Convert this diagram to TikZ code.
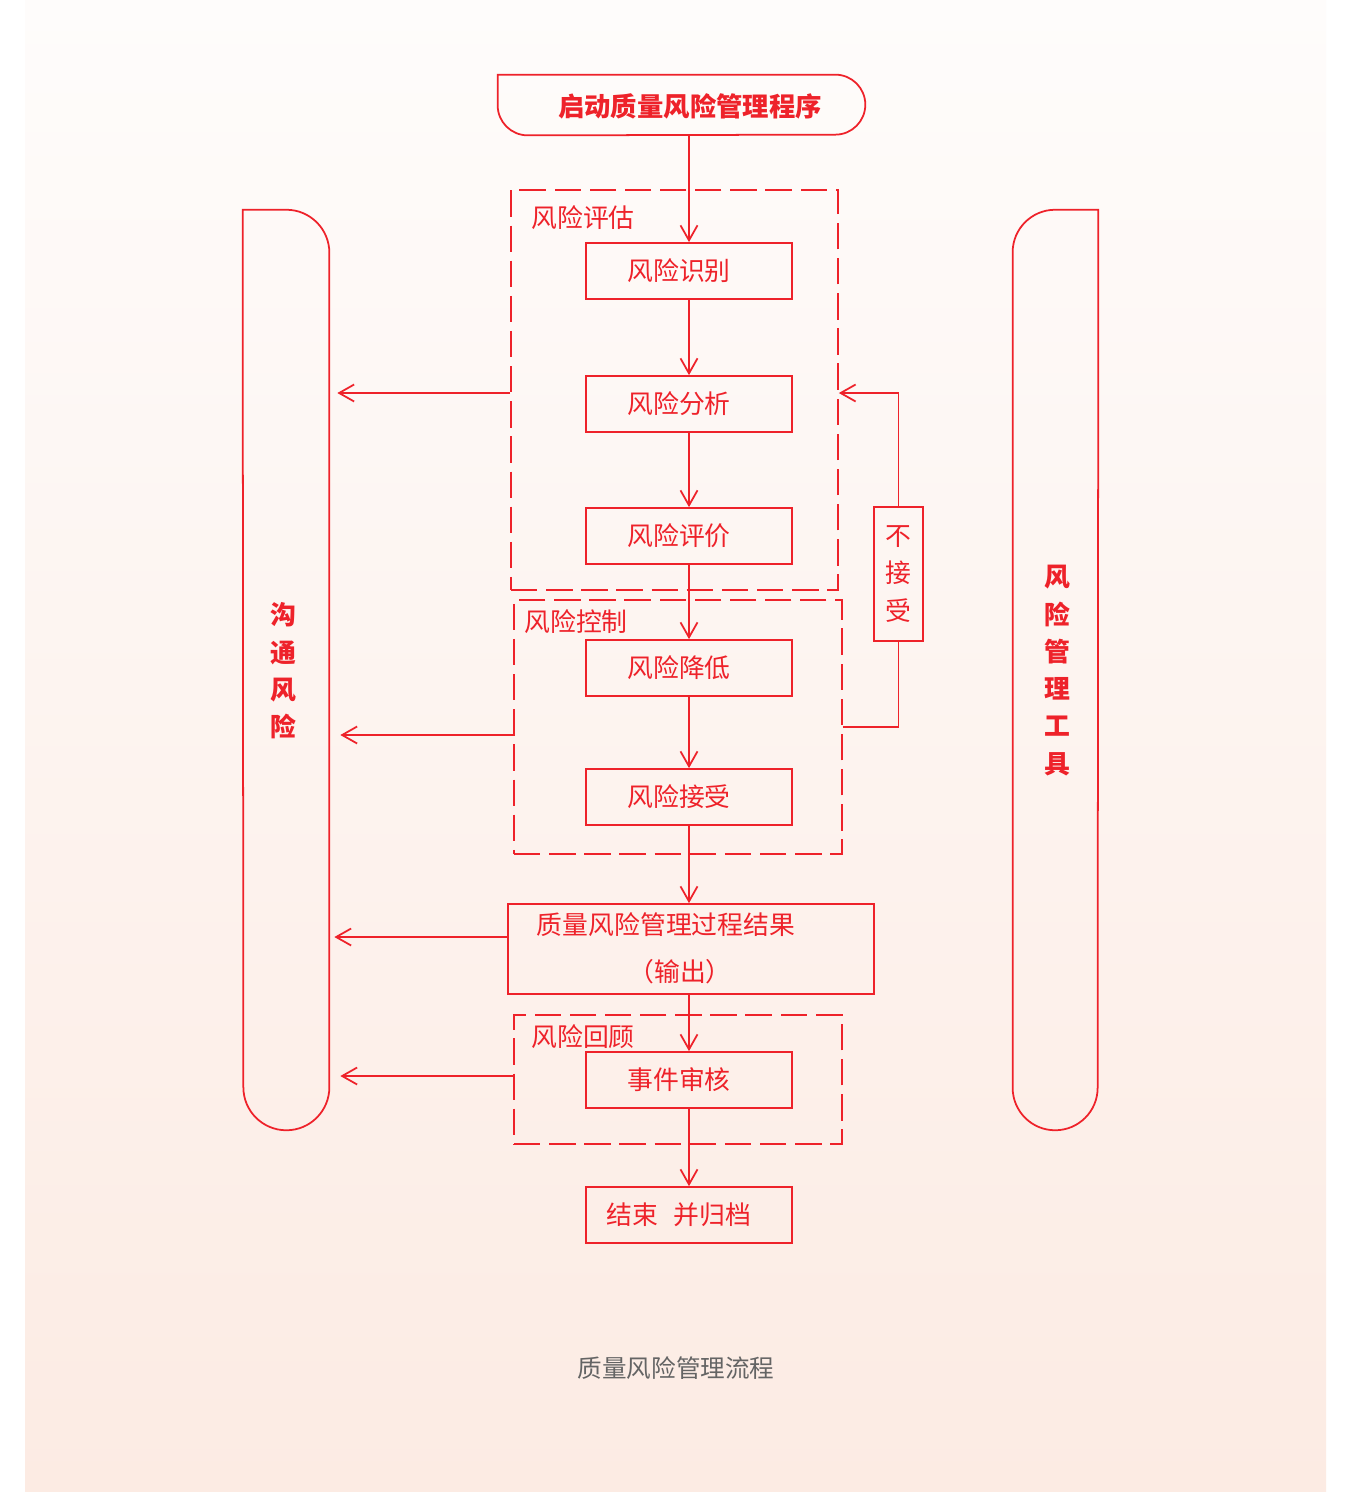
\documentclass[tikz,border=0pt]{standalone}
\usepackage{fontspec}
\setmainfont{Noto Sans CJK SC}
\usepackage{tikz}
\usetikzlibrary{positioning,calc,arrows.meta}

\definecolor{qred}{RGB}{238,34,42}
\definecolor{bgtop}{RGB}{254,252,251}
\definecolor{bgbot}{RGB}{252,235,227}
\definecolor{capgray}{RGB}{100,100,100}

\begin{document}
\begin{tikzpicture}[x=0.02cm, y=0.02cm,
    txt/.style={font=\fontsize{14.7pt}{17pt}\selectfont, text=qred, inner sep=0pt},
    stepbox/.style={draw=qred, line width=1pt, minimum width=4.12cm, minimum height=1.12cm, inner sep=0pt, txt},
    leftish/.style={execute at end node=\hspace*{0.4cm}},
    groupbox/.style={draw=qred, line width=1pt, dash pattern=on 15pt off 5pt, inner sep=0pt},
    ghost/.style={draw=none, inner sep=0pt},
    edge/.style={draw=qred, line width=1pt},
    arr/.style={edge, -{Straight Barb[length=3mm, width=3.4mm, line width=1pt]}},
    vtxt/.style={txt, font=\fontsize{14.7pt}{21.2pt}\selectfont\bfseries, align=center}]
      % background
      \fill[white] (0,0) rectangle (1345,-1492);
      \shade[top color=bgtop, bottom color=bgbot] (25,0) rectangle (1326,-1492);

      % start
      \node[ghost, minimum width=7.34cm, minimum height=1.2cm] (start) at (681.5,-105) {};
      \draw[edge] (start.north west) -- ([xshift=-0.6cm]start.north east)
        arc[start angle=90, end angle=-90, radius=0.6cm] -- ([xshift=0.6cm]start.south west)
        arc[start angle=270, end angle=180, radius=0.6cm] -- cycle;
      \node[txt, font=\fontsize{15pt}{17pt}\selectfont\bfseries] (starttxt) at (690,-106) {启动质量风险管理程序};

      % groups
      \node[groupbox, minimum width=6.54cm, minimum height=8cm] (assess) at (674.5,-390) {};
      \node[groupbox, minimum width=6.56cm, minimum height=5.08cm] (control) at (678,-727) {};
      \node[groupbox, minimum width=6.56cm, minimum height=2.58cm] (review) at (678,-1079.5) {};
      \node[txt] (assesslbl) at (583,-218) {风险评估};
      \node[txt] (controllbl) at (576,-622) {风险控制};
      \node[txt] (reviewlbl) at (583,-1037) {风险回顾};

      % steps
      \node[stepbox, leftish] (ident) at (689,-271) {风险识别};
      \node[stepbox, leftish] (analy) at (689,-404) {风险分析};
      \node[stepbox, leftish] (evalu) at (689,-536) {风险评价};
      \node[stepbox, leftish] (reduce) at (689,-668) {风险降低};
      \node[stepbox, leftish] (accept) at (689,-797) {风险接受};
      \node[stepbox, minimum width=7.32cm, minimum height=1.8cm] (out) at (691,-949) {};
      \node[txt] (outa) at (666,-925) {质量风险管理过程结果};
      \node[txt] (outb) at (680,-972) {（输出）};
      \node[stepbox, leftish] (audit) at (689,-1080) {事件审核};
      \node[stepbox, leftish] (finish) at (689,-1215) {结束\hspace{0.6em}并归档};
      \node[stepbox, minimum width=0.98cm, minimum height=2.68cm, font=\fontsize{14.7pt}{21.2pt}\selectfont, align=center] (noacc) at (898.5,-574) {不\\接\\受};

      % side bars
      \node[ghost, minimum width=1.72cm, minimum height=18.4cm] (comm) at (286,-670) {};
      \draw[edge] (comm.north west) -- ([xshift=-0.86cm]comm.north east)
        arc[start angle=90, end angle=0, radius=0.86cm] -- ([yshift=0.86cm]comm.south east)
        arc[start angle=0, end angle=-180, radius=0.86cm] -- cycle;
      \node[vtxt] (commtxt) at (283,-671) {沟\\通\\风\\险};
      \node[ghost, minimum width=1.7cm, minimum height=18.4cm] (tools) at (1055.5,-670) {};
      \draw[edge] (tools.north east) -- ([xshift=0.85cm]tools.north west)
        arc[start angle=90, end angle=180, radius=0.85cm] -- ([yshift=0.85cm]tools.south west)
        arc[start angle=180, end angle=360, radius=0.85cm] -- cycle;
      \node[vtxt] (toolstxt) at (1057,-670.5) {风\\险\\管\\理\\工\\具};

      % main flow
      \draw[arr] (start.south -| ident.north) -- (ident.north);
      \draw[arr] (ident) -- (analy);
      \draw[arr] (analy) -- (evalu);
      \draw[arr] (evalu) -- (reduce);
      \draw[arr] (reduce) -- (accept);
      \draw[arr] (accept) -- (out.north -| accept);
      \draw[arr] (out.south -| audit) -- (audit);
      \draw[arr] (audit) -- (finish);

      % feedback
      \draw[edge] (control.east) -| (noacc.south);
      \draw[arr] (noacc.north) |- ([yshift=-0.06cm]assess.east);

      % to communication
      \draw[arr, shorten >=0.16cm] ([yshift=-0.06cm]assess.west) -- ([yshift=-0.06cm]assess.west -| comm.east);
      \draw[arr, shorten >=0.22cm] ([yshift=-0.16cm]control.west) -- ([yshift=-0.16cm]control.west -| comm.east);
      \draw[arr, shorten >=0.1cm] ([yshift=0.24cm]out.west) -- ([yshift=0.24cm]out.west -| comm.east);
      \draw[arr, shorten >=0.22cm] ([yshift=0.07cm]review.west) -- ([yshift=0.07cm]review.west -| comm.east);

      % caption
      \node[txt, text=capgray, font=\fontsize{14pt}{17pt}\selectfont] (caption) at (676,-1368) {质量风险管理流程};
    \end{tikzpicture}
\end{document}
